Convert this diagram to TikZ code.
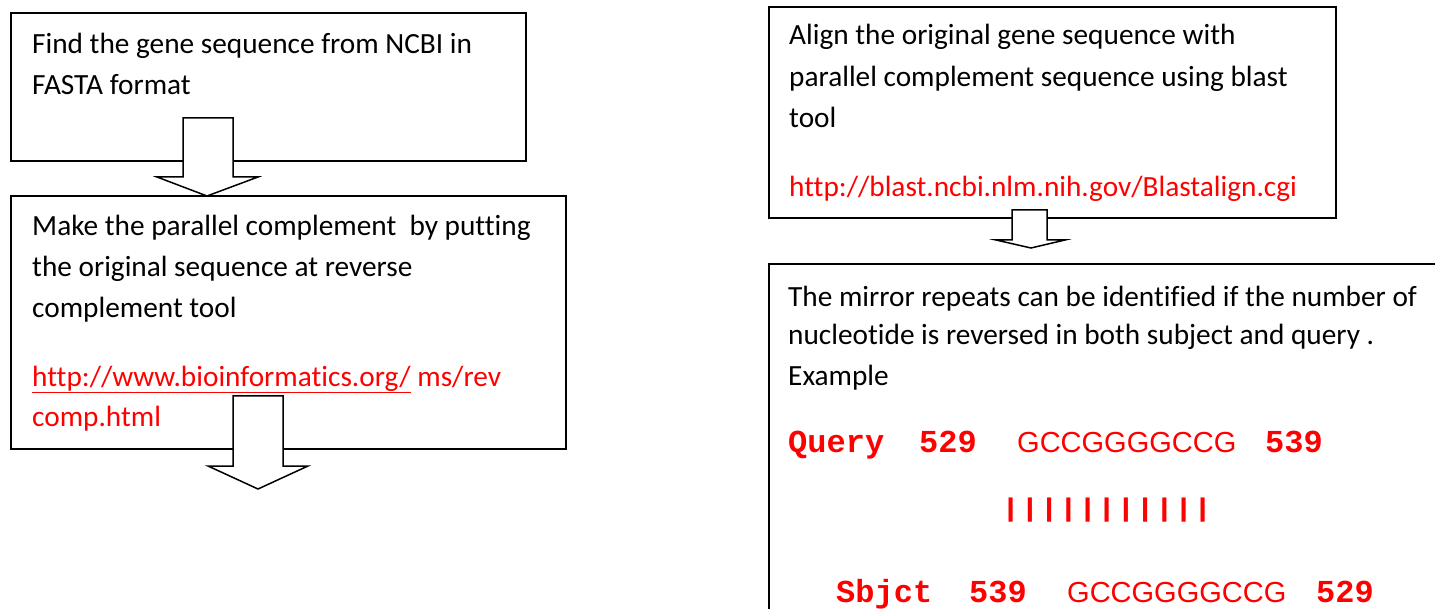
\documentclass[tikz,border=0pt]{standalone}
\usepackage{fontspec}
\setmainfont{Carlito}[Ligatures=NoCommon]
\newfontfamily\courf{Liberation Mono}
\newfontfamily\arialf{Liberation Sans}
\definecolor{urlred}{RGB}{255,0,0}
\newcommand\redul[1]{\setbox0\hbox{#1}\rlap{\rule[-6.5pt]{\wd0}{1.6pt}}\box0\relax}
\tikzset{
  box/.style={draw, line width=1.6pt, anchor=north west, inner sep=0pt},
  txt/.style={anchor=base west, inner sep=0pt, font=\fontsize{29.3}{35}\selectfont},
  redtxt/.style={txt, text=urlred},
  mono/.style={anchor=base west, inner sep=0pt, text=urlred, font=\fontsize{32}{38}\courf\bfseries},
  seq/.style={anchor=base west, inner sep=0pt, text=urlred, font=\fontsize{29}{35}\arialf},
  blockarrow/.style={draw, fill=white, line width=1.5pt, line join=miter},
}
\begin{document}
\begin{tikzpicture}[x=1pt,y=-1pt]
\useasboundingbox (0,0) rectangle (1435,609);
\fill[white] (0,0) rectangle (1435,609);
% boxes
\node[box, minimum width=515pt, minimum height=148pt] (b1) at (10,12) {};
\node[box, minimum width=555pt, minimum height=253pt] (b2) at (10,195) {};
\node[box, minimum width=567pt, minimum height=211pt] (b3) at (768,6) {};
\node[box, minimum width=700pt, minimum height=400pt] (b4) at (768,263) {};
% box 1 text
\node[txt] (t1a) at (32,54) {Find the gene sequence from NCBI in};
\node[txt] (t1b) at (32,95) {FASTA format};
% box 2 text
\node[txt] (t2a) at (32,236) {Make the parallel complement\ \ by putting};
\node[txt] (t2b) at (32,277) {the original sequence at reverse};
\node[txt] (t2c) at (32,318) {complement tool};
\node[redtxt] (t2d) at (32,387) {\redul{http://www.bioinformatics.org/} ms/rev};
\node[redtxt] (t2e) at (32,427) {comp.html};
% box 3 text
\node[txt] (t3a) at (789,45) {Align the original gene sequence with};
\node[txt] (t3b) at (789,87) {parallel complement sequence using blast};
\node[txt] (t3c) at (789,128) {tool};
\node[redtxt] (t3d) at (789,197) {http://blast.ncbi.nlm.nih.gov/Blastalign.cgi};
% box 4 text
\node[txt] (t4a) at (788,307) {The mirror repeats can be identified if the number of};
\node[txt] (t4b) at (788,345) {nucleotide is reversed in both subject and query .};
\node[txt] (t4c) at (788,385) {Example};
\node[mono] (q1) at (788,452) {Query};
\node[mono] (q2) at (919,452) {529};
\node[seq] (q3) at (1017,452) {GCCGGGGCCG};
\node[mono] (q4) at (1265,452) {539};
\node[mono, anchor=west] (bars) at (1001,510) {\scalebox{1}[0.8]{|||||||||||}};
\node[mono] (s1) at (836,602) {Sbjct};
\node[mono] (s2) at (969,602) {539};
\node[seq] (s3) at (1067,602) {GCCGGGGCCG};
\node[mono] (s4) at (1316,602) {529};
% block arrows
\draw[blockarrow] (183,118) -- (183,177) -- (157,177) -- (207,196) -- (258,177) -- (233,177) -- (233,118) -- cycle;
\draw[blockarrow] (233,396) -- (233,466) -- (208,466) -- (258,489) -- (308,466) -- (283,466) -- (283,396) -- cycle;
\draw[blockarrow] (1012,210) -- (1012,240) -- (996,240) -- (1031,248) -- (1065,240) -- (1047,240) -- (1047,210) -- cycle;
\end{tikzpicture}
\end{document}
